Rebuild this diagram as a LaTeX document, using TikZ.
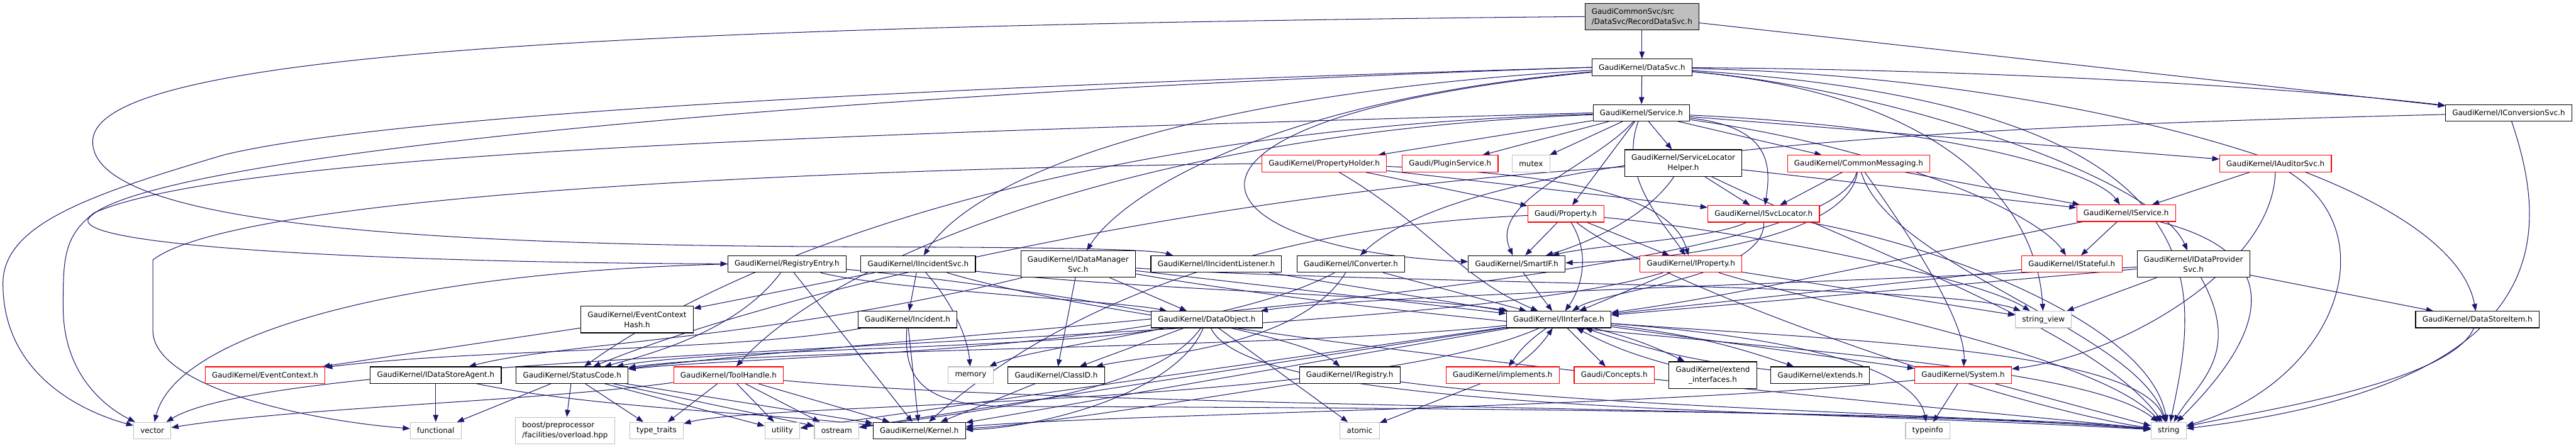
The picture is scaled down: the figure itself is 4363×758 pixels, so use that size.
\documentclass[tikz,border=0pt]{standalone}
\usepackage{fontspec}
\setmainfont{DejaVu Sans}
\usetikzlibrary{arrows.meta,backgrounds}
\definecolor{edgeblue}{RGB}{25,25,112}
\definecolor{truncred}{RGB}{255,0,0}
\definecolor{sysgray} {RGB}{191,191,191}
\definecolor{rootgray}{RGB}{191,191,191}

\begin{document}
\begin{tikzpicture}[
  x=1pt,y=-1pt,
  every node/.style={font=\fontsize{12.7}{17}\selectfont},
  hdr/.style={draw=black,line width=1.2pt,fill=white,inner xsep=11.5pt,
              inner ysep=0pt,minimum height=28pt,align=center},
  trunc/.style={hdr,draw=truncred},
  sys/.style={hdr,draw=sysgray},
  root/.style={hdr,fill=rootgray,align=left,minimum height=45pt},
  tall/.style={minimum height=45pt},
  inc/.style={-{Triangle[length=12pt,width=9pt]},edgeblue,line width=1.1pt},
]
\useasboundingbox (0,0) rectangle (4363,758);

%% ── Top levels ───────────────────────────────────────────────────────────
\node[root] (rds) at (2781,28) {GaudiCommonSvc/src\\/DataSvc/RecordDataSvc.h};
\node[hdr] (dsvc) at (2781,114) {GaudiKernel/DataSvc.h};
\node[hdr] (svc) at (2780,191) {GaudiKernel/Service.h};
\node[hdr] (iconv) at (4249,191) {GaudiKernel/IConversionSvc.h};

%% ── Row of Service.h includes ────────────────────────────────────────────
\node[trunc] (propholder) at (2243,277) {GaudiKernel/PropertyHolder.h};
\node[trunc] (plugin) at (2456,277) {Gaudi/PluginService.h};
\node[sys] (mutex) at (2593,277) {mutex};
\node[hdr,tall] (slh) at (2851,276) {GaudiKernel/ServiceLocator\\Helper.h};
\node[trunc] (commsg) at (3148,277) {GaudiKernel/CommonMessaging.h};
\node[trunc] (iaud) at (3854,277) {GaudiKernel/IAuditorSvc.h};

\node[trunc] (gprop) at (2652,362) {Gaudi/Property.h};
\node[trunc] (isvcloc) at (2987,362) {GaudiKernel/ISvcLocator.h};
\node[trunc] (iservice) at (3601,361) {GaudiKernel/IService.h};

%% ── Interfaces ───────────────────────────────────────────────────────────
\node[hdr] (regentry) at (1333,447) {GaudiKernel/RegistryEntry.h};
\node[hdr] (iincsvc) at (1555,447) {GaudiKernel/IIncidentSvc.h};
\node[hdr,tall] (idms) at (1826,447) {GaudiKernel/IDataManager\\Svc.h};
\node[hdr] (iinclis) at (2060,447) {GaudiKernel/IIncidentListener.h};
\node[hdr] (iconverter) at (2288,447) {GaudiKernel/IConverter.h};
\node[hdr] (smartif) at (2569,447) {GaudiKernel/SmartIF.h};
\node[trunc] (iprop) at (2864,447) {GaudiKernel/IProperty.h};
\node[trunc] (istateful) at (3509,447) {GaudiKernel/IStateful.h};
\node[hdr,tall] (idps) at (3715,447) {GaudiKernel/IDataProvider\\Svc.h};

\node[hdr,tall] (evhash) at (1079,541) {GaudiKernel/EventContext\\Hash.h};
\node[hdr] (incident) at (1537,541) {GaudiKernel/Incident.h};
\node[hdr] (dataobj) at (2044,541) {GaudiKernel/DataObject.h};
\node[hdr] (iiface) at (2640,541) {GaudiKernel/IInterface.h};
\node[sys] (strview) at (3461,541) {string\_view};
\node[hdr] (dsitem) at (4196,541) {GaudiKernel/DataStoreItem.h};

%% ── Lower row ────────────────────────────────────────────────────────────
\node[trunc] (evctx) at (449,635) {GaudiKernel/EventContext.h};
\node[hdr] (idsa) at (738,635) {GaudiKernel/IDataStoreAgent.h};
\node[hdr] (statuscode) at (969,635) {GaudiKernel/StatusCode.h};
\node[trunc] (toolhandle) at (1234,635) {GaudiKernel/ToolHandle.h};
\node[sys] (memory) at (1644,635) {memory};
\node[hdr] (classid) at (1789,635) {GaudiKernel/ClassID.h};
\node[hdr] (iregistry) at (2286,635) {GaudiKernel/IRegistry.h};
\node[trunc] (implements) at (2545,635) {GaudiKernel/implements.h};
\node[trunc] (concepts) at (2734,635) {Gaudi/Concepts.h};
\node[hdr,tall] (extendif) at (2901,635) {GaudiKernel/extend\\\_interfaces.h};
\node[hdr] (extends) at (3083,635) {GaudiKernel/extends.h};
\node[trunc] (system) at (3325,635) {GaudiKernel/System.h};

%% ── System headers ───────────────────────────────────────────────────────
\node[sys] (vector) at (258,729) {vector};
\node[sys] (functional) at (738,729) {functional};
\node[sys,align=left,tall] (boost) at (957,729) {boost/preprocessor\\/facilities/overload.hpp};
\node[sys] (typetraits) at (1112,729) {type\_traits};
\node[sys] (utility) at (1325,729) {utility};
\node[sys] (ostream) at (1417,729) {ostream};
\node[hdr] (kernel) at (1557,729) {GaudiKernel/Kernel.h};
\node[sys] (atomic) at (2303,729) {atomic};
\node[sys] (typeinfo) at (3265,729) {typeinfo};
\node[sys] (string) at (3673,729) {string};

\begin{scope}[on background layer]
%% RecordDataSvc.h
\draw[inc] (rds) -- (dsvc);
\draw[inc] (rds) -- (iconv);
\draw[inc] (rds.west) .. controls (900,45) and (157,100) .. (157,240)
  .. controls (157,390) and (800,417) .. (1500,418)
  .. controls (1800,419) and (1950,422) .. ([xshift=38pt]iinclis.north west);

%% DataSvc.h
\draw[inc] (dsvc) -- (svc);
\draw[inc] (dsvc) .. controls (3400,118) and (3900,150) .. (iconv);
\draw[inc] (dsvc.west) .. controls (1300,160) and (230,270) .. (150,370)
  .. controls (120,420) and (700,445) .. (regentry);
\draw[inc] (dsvc) .. controls (2000,160) and (1650,300) .. (iincsvc);
\draw[inc] (dsvc) .. controls (2150,170) and (1900,330) .. (idms);
\draw[inc] (dsvc) .. controls (3200,150) and (3650,300) .. (idps);
\draw[inc] (dsvc) .. controls (3500,130) and (4150,300) .. (dsitem);
\draw[inc] (dsvc) .. controls (1900,200) and (2000,420) .. (smartif);
\draw[inc] (dsvc) .. controls (3300,160) and (3450,350) .. (strview);
\draw[inc] (dsvc) .. controls (3800,180) and (3720,500) .. (string);
\draw[inc] (dsvc.west) .. controls (1800,140) and (700,185) .. (380,262)
  .. controls (150,330) and (5,380) .. (5,480)
  .. controls (5,640) and (150,700) .. (vector);

%% Service.h
\draw[inc] (svc) -- (propholder);
\draw[inc] (svc) -- (plugin);
\draw[inc] (svc) -- (mutex);
\draw[inc] (svc) -- (slh);
\draw[inc] (svc) -- (commsg);
\draw[inc] (svc) -- (iaud);
\draw[inc] (svc) -- (gprop);
\draw[inc] (svc) .. controls (3000,215) and (3000,280) .. (isvcloc);
\draw[inc] (svc) .. controls (3300,215) and (3550,290) .. (iservice);
\draw[inc] (svc) .. controls (3200,250) and (3450,360) .. (istateful);
\draw[inc] (svc) .. controls (2740,300) and (2820,380) .. (iprop);
\draw[inc] (svc) .. controls (2700,280) and (2520,340) .. (smartif);
\draw[inc] (svc) .. controls (1900,215) and (1300,400) .. (statuscode);
\draw[inc] (svc) .. controls (1900,225) and (1400,450) .. (toolhandle);
\draw[inc] (svc.west) .. controls (1500,225) and (400,255) .. (160,360)
  .. controls (107,400) and (107,440) .. (107,520)
  .. controls (107,650) and (200,700) .. (vector);

%% IConversionSvc.h
\draw[inc] (iconv) .. controls (3300,215) and (2500,250) .. (iconverter);
\draw[inc] (iconv) .. controls (4320,400) and (4330,650) .. (string);

%% PropertyHolder.h
\draw[inc] (propholder) -- (gprop);
\draw[inc] (propholder) -- (isvcloc);
\draw[inc] (propholder) .. controls (2650,295) and (2830,330) .. (iprop);
\draw[inc] (propholder) .. controls (2420,380) and (2470,470) .. (iiface);
\draw[inc] (propholder.west) .. controls (1400,285) and (400,330) .. (259,440)
  -- (259,560) .. controls (259,650) and (500,710) .. (functional);

%% ServiceLocatorHelper.h
\draw[inc] (slh) -- (isvcloc);
\draw[inc] (slh) .. controls (2780,380) and (2660,420) .. (smartif);
\draw[inc] (slh) -- (iservice);
\draw[inc] (slh) .. controls (2000,330) and (1300,500) .. (statuscode);
\draw[inc] (slh) .. controls (3150,420) and (3550,560) .. (string);

%% CommonMessaging.h
\draw[inc] (commsg) -- (isvcloc);
\draw[inc] (commsg) -- (iservice);
\draw[inc] (commsg) .. controls (3130,400) and (2850,440) .. (smartif);
\draw[inc] (commsg) .. controls (3100,480) and (1600,560) .. (statuscode);
\draw[inc] (commsg) .. controls (3250,420) and (3330,550) .. (system);
\draw[inc] (commsg) .. controls (3200,450) and (3620,560) .. (string);

%% IAuditorSvc.h
\draw[inc] (iaud) -- (iservice);
\draw[inc] (iaud) .. controls (3850,450) and (3600,600) .. (system);
\draw[inc] (iaud) .. controls (4050,400) and (3950,650) .. (string);

%% Gaudi/Property.h
\draw[inc] (gprop) -- (iprop);
\draw[inc] (gprop) -- (smartif);
\draw[inc] (gprop) .. controls (2000,390) and (1700,600) .. (kernel);
\draw[inc] (gprop) .. controls (2950,390) and (3350,470) .. (strview);
\draw[inc] (gprop) .. controls (2800,480) and (3400,690) .. (string);
\draw[inc] (gprop) .. controls (2700,440) and (2670,500) .. (iiface);

%% ISvcLocator.h
\draw[inc] (isvcloc) .. controls (2900,405) and (2700,415) .. (smartif);
\draw[inc] (isvcloc) .. controls (2990,470) and (2720,490) .. (iiface);
\draw[inc] (isvcloc) .. controls (3300,420) and (3640,550) .. (string);

%% IService.h, IStateful.h
\draw[inc] (iservice) -- (istateful);
\draw[inc] (iservice) .. controls (3950,450) and (3750,650) .. (string);
\draw[inc] (iservice) .. controls (3300,420) and (2950,500) .. (iiface);
\draw[inc] (istateful) -- (iiface);

%% IDataProviderSvc.h
\draw[inc] (idps) -- (iiface);
\draw[inc] (idps) .. controls (3100,480) and (2300,500) .. (dataobj);
\draw[inc] (idps) -- (strview);
\draw[inc] (idps) .. controls (3800,600) and (3720,650) .. (string);
\draw[inc] (idps) -- (dsitem);

%% RegistryEntry.h
\draw[inc] (regentry) .. controls (1500,490) and (1900,510) .. (dataobj);
\draw[inc] (regentry) .. controls (1700,480) and (2200,560) .. (iregistry);
\draw[inc] (regentry) -- (kernel);
\draw[inc] (regentry) .. controls (1250,560) and (1100,600) .. (statuscode);
\draw[inc] (regentry.west) .. controls (700,460) and (300,560) .. (vector);

%% IIncidentSvc.h
\draw[inc] (iincsvc) -- (incident);
\draw[inc] (iincsvc) -- (evhash);
\draw[inc] (iincsvc) .. controls (1620,520) and (1640,580) .. (memory);
\draw[inc] (iincsvc) .. controls (1900,490) and (2400,500) .. (iiface);
\draw[inc] (iincsvc) .. controls (2000,580) and (3300,690) .. (string);

%% IDataManagerSvc.h
\draw[inc] (idms) -- (classid);
\draw[inc] (idms) -- (dataobj);
\draw[inc] (idms) .. controls (1300,575) and (950,580) .. (idsa);
\draw[inc] (idms) -- (iiface);
\draw[inc] (idms) .. controls (2300,480) and (3300,480) .. (strview);
\draw[inc] (idms) .. controls (2600,580) and (3500,590) .. (string);

%% IIncidentListener.h, IConverter.h, SmartIF.h
\draw[inc] (iinclis) -- (iiface);
\draw[inc] (iconverter) -- (iiface);
\draw[inc] (iconverter) .. controls (2200,590) and (1950,600) .. (classid);
\draw[inc] (iconverter) .. controls (2000,600) and (1300,600) .. (statuscode);
\draw[inc] (smartif) -- (iiface);

%% IProperty.h
\draw[inc] (iprop) -- (iiface);
\draw[inc] (iprop) -- (strview);
\draw[inc] (iprop) .. controls (3100,520) and (3550,600) .. (string);
\draw[inc] (iprop) .. controls (2400,590) and (500,580) .. (vector);

%% DataStoreItem.h, EventContextHash.h, Incident.h
\draw[inc] (dsitem) .. controls (4150,650) and (3800,700) .. (string);
\draw[inc] (evhash) -- (evctx);
\draw[inc] (incident) .. controls (1250,595) and (800,590) .. (evctx);
\draw[inc] (incident) -- (kernel);
\draw[inc] (incident) .. controls (1530,640) and (1560,685) .. (1700,688)
  .. controls (2500,690) and (3400,700) .. (string);

%% DataObject.h
\draw[inc] (dataobj) -- (classid);
\draw[inc] (dataobj) .. controls (1850,580) and (1720,600) .. (memory);
\draw[inc] (dataobj) .. controls (1800,590) and (1200,590) .. (statuscode);
\draw[inc] (dataobj) .. controls (1960,660) and (1700,690) .. (ostream);
\draw[inc] (dataobj) .. controls (1990,670) and (1750,725) .. (kernel);
\draw[inc] (dataobj) -- (atomic);
\draw[inc] (dataobj) .. controls (2120,700) and (3000,690) .. (string);

%% IInterface.h
\draw[inc] (iiface) -- (kernel);
\draw[inc] (iiface) .. controls (2200,590) and (1300,590) .. (statuscode);
\draw[inc] (iiface) -- (system);
\draw[inc] (iiface) -- (ostream);
\draw[inc] (iiface) .. controls (2300,690) and (1300,680) .. (typetraits);
\draw[inc] (iiface) .. controls (3150,580) and (3250,650) .. (typeinfo);
\draw[inc] (iiface) .. controls (3100,575) and (3620,590) .. (string);
\draw[inc] (iiface) -- (concepts);
\draw[inc] (iiface) to[bend right=10] (implements);
\draw[inc] (implements) to[bend right=10] (iiface);
\draw[inc] (iiface) to[bend left=6] (extendif);
\draw[inc] (extendif) to[bend left=6] (iiface);
\draw[inc] (iiface) to[bend left=6] (extends);
\draw[inc] (extends) to[bend left=6] (iiface);
\draw[inc] (iiface) -- (utility);
\draw[inc] (implements) -- (atomic);

%% System.h
\draw[inc] (system) .. controls (2800,690) and (1900,700) .. (kernel);
\draw[inc] (system) -- (typeinfo);
\draw[inc] (system) -- (string);

%% StatusCode.h
\draw[inc] (statuscode) -- (boost);
\draw[inc] (statuscode) -- (functional);
\draw[inc] (statuscode) -- (typetraits);
\draw[inc] (statuscode) -- (utility);
\draw[inc] (statuscode) -- (ostream);
\draw[inc] (statuscode) -- (kernel);

%% IDataStoreAgent.h, ToolHandle.h
\draw[inc] (idsa) -- (functional);
\draw[inc] (idsa) .. controls (1000,690) and (1300,700) .. (kernel);
\draw[inc] (toolhandle) -- (typetraits);
\draw[inc] (toolhandle) -- (utility);
\draw[inc] (toolhandle) -- (ostream);
\draw[inc] (toolhandle) -- (kernel);
\draw[inc] (toolhandle) .. controls (1800,690) and (3200,690) .. (string);
\draw[inc] (toolhandle) .. controls (900,680) and (500,690) .. (vector);

%% ClassID.h, IRegistry.h
\draw[inc] (classid) -- (kernel);
\draw[inc] (iregistry) .. controls (2000,680) and (1750,720) .. (kernel);
\draw[inc] (iregistry) .. controls (2700,690) and (3300,700) .. (string);
\end{scope}

\end{tikzpicture}
\end{document}
